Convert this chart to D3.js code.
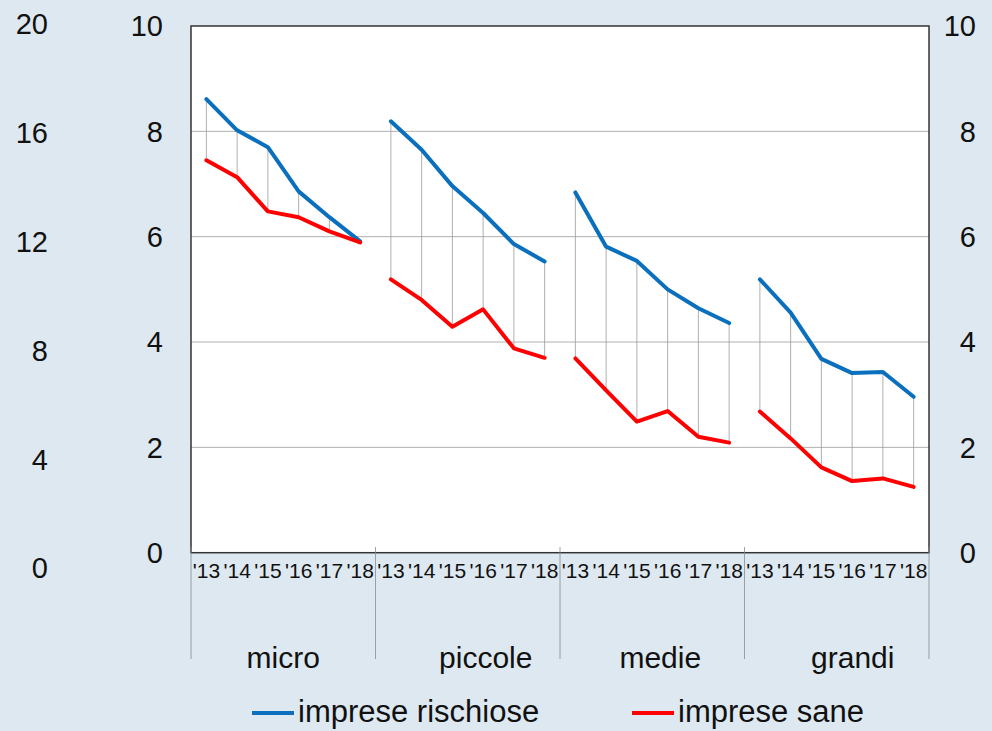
<!DOCTYPE html>
<html>
<head>
<meta charset="utf-8">
<script src="https://cdn.jsdelivr.net/npm/d3@7"></script>
<style>
  html, body { margin: 0; padding: 0; background: #dde8f0; }
  svg { display: block; font-family: "Liberation Sans", Arial, Helvetica, sans-serif; }
</style>
</head>
<body>
<svg id="chart" width="992" height="731"></svg>
<script>
// ---- data ----
const groups = ["micro", "piccole", "medie", "grandi"];
const years = ["'13", "'14", "'15", "'16", "'17", "'18"];
const rischiose = {
  micro:   [8.61, 8.02, 7.70, 6.86, 6.37, 5.91],
  piccole: [8.19, 7.65, 6.96, 6.45, 5.86, 5.53],
  medie:   [6.84, 5.81, 5.54, 5.00, 4.64, 4.36],
  grandi:  [5.19, 4.56, 3.68, 3.41, 3.43, 2.96]
};
const sane = {
  micro:   [7.45, 7.13, 6.48, 6.37, 6.10, 5.89],
  piccole: [5.19, 4.80, 4.29, 4.62, 3.88, 3.70],
  medie:   [3.69, 3.08, 2.49, 2.69, 2.20, 2.09],
  grandi:  [2.68, 2.17, 1.62, 1.36, 1.41, 1.25]
};
const innerTicks = [0, 2, 4, 6, 8, 10];
const outerTicks = [0, 4, 8, 12, 16, 20];
const seriesNames = ["imprese rischiose", "imprese sane"];

// ---- layout ----
const L = 191, R = 929, T = 26, B = 552.7;
const blue = "#0a70bd", red = "#ff0000";
const svg = d3.select("#chart");

const x0 = d3.scaleBand().domain(groups).range([L, R]);
const x1 = d3.scaleBand().domain(years).range([0, x0.bandwidth()]);
const y = d3.scaleLinear().domain([0, 10]).range([B, T]);
const yOuter = d3.scaleLinear().domain([0, 20]).range([568, 24]);
const xc = (g, i) => x0(g) + x1(years[i]) + x1.bandwidth() / 2;

// plot background
svg.append("rect").attr("x", L).attr("y", T).attr("width", R - L).attr("height", B - T)
  .attr("fill", "#ffffff");

// gridlines
svg.append("g").selectAll("line").data(innerTicks.filter(d => d > 0 && d < 10)).join("line")
  .attr("x1", L).attr("x2", R).attr("y1", d => y(d)).attr("y2", d => y(d))
  .attr("stroke", "#b0b0b0").attr("stroke-width", 1);

// hi-low droplines
groups.forEach(g => {
  svg.append("g").selectAll("line").data(years).join("line")
    .attr("x1", (d, i) => xc(g, i)).attr("x2", (d, i) => xc(g, i))
    .attr("y1", (d, i) => y(rischiose[g][i])).attr("y2", (d, i) => y(sane[g][i]))
    .attr("stroke", "#9a9a9a").attr("stroke-width", 0.8);
});

// lines
const line = d3.line().x(d => d[0]).y(d => y(d[1]));
groups.forEach(g => {
  [[rischiose, blue], [sane, red]].forEach(([s, c]) => {
    svg.append("path")
      .attr("d", line(s[g].map((v, i) => [xc(g, i), v])))
      .attr("fill", "none").attr("stroke", c).attr("stroke-width", 4)
      .attr("stroke-linejoin", "round").attr("stroke-linecap", "round");
  });
});

// frame
svg.append("rect").attr("x", L).attr("y", T).attr("width", R - L).attr("height", B - T)
  .attr("fill", "none").attr("stroke", "#333").attr("stroke-width", 1.5);

// group separators below axis
svg.append("g").selectAll("line").data(groups.concat(["end"])).join("line")
  .attr("x1", (d, i) => i < groups.length ? x0(d) : R)
  .attr("x2", (d, i) => i < groups.length ? x0(d) : R)
  .attr("y1", 547).attr("y2", 659)
  .attr("stroke", "#8a8a8a").attr("stroke-width", 0.8);

// x tick labels
groups.forEach(g => {
  svg.append("g").selectAll("text").data(years).join("text")
    .attr("x", (d, i) => xc(g, i)).attr("y", 578)
    .attr("text-anchor", "middle").attr("font-size", 21).attr("fill", "#111")
    .text(d => d);
});

// category labels
const catShift = [0, 18, 8, 16];
svg.append("g").selectAll("text").data(groups).join("text")
  .attr("x", (d, i) => x0(d) + x0.bandwidth() / 2 + catShift[i]).attr("y", 668)
  .attr("text-anchor", "middle").attr("font-size", 30).attr("fill", "#111")
  .text(d => d);

// inner left axis
svg.append("g").selectAll("text").data(innerTicks).join("text")
  .attr("x", 163).attr("y", d => y(d)).attr("dy", "0.36em")
  .attr("text-anchor", "end").attr("font-size", 29).attr("fill", "#111")
  .text(d => d);

// right axis
svg.append("g").selectAll("text").data(innerTicks).join("text")
  .attr("x", 976).attr("y", d => y(d)).attr("dy", "0.36em")
  .attr("text-anchor", "end").attr("font-size", 29).attr("fill", "#111")
  .text(d => d);

// outer left axis
svg.append("g").selectAll("text").data(outerTicks).join("text")
  .attr("x", 48).attr("y", d => yOuter(d)).attr("dy", "0.36em")
  .attr("text-anchor", "end").attr("font-size", 29).attr("fill", "#111")
  .text(d => d);

// legend
const legendX = [252, 632];
const legendColors = [blue, red];
const lg = svg.append("g").selectAll("g").data(seriesNames).join("g")
  .attr("transform", (d, i) => `translate(${legendX[i]},713)`);
lg.append("line").attr("x1", 0).attr("x2", 42).attr("y1", 0).attr("y2", 0)
  .attr("stroke", (d, i) => legendColors[i]).attr("stroke-width", 4);
lg.append("text").attr("x", 46).attr("y", 9).attr("font-size", 31).attr("fill", "#111")
  .text(d => d);
</script>
</body>
</html>
